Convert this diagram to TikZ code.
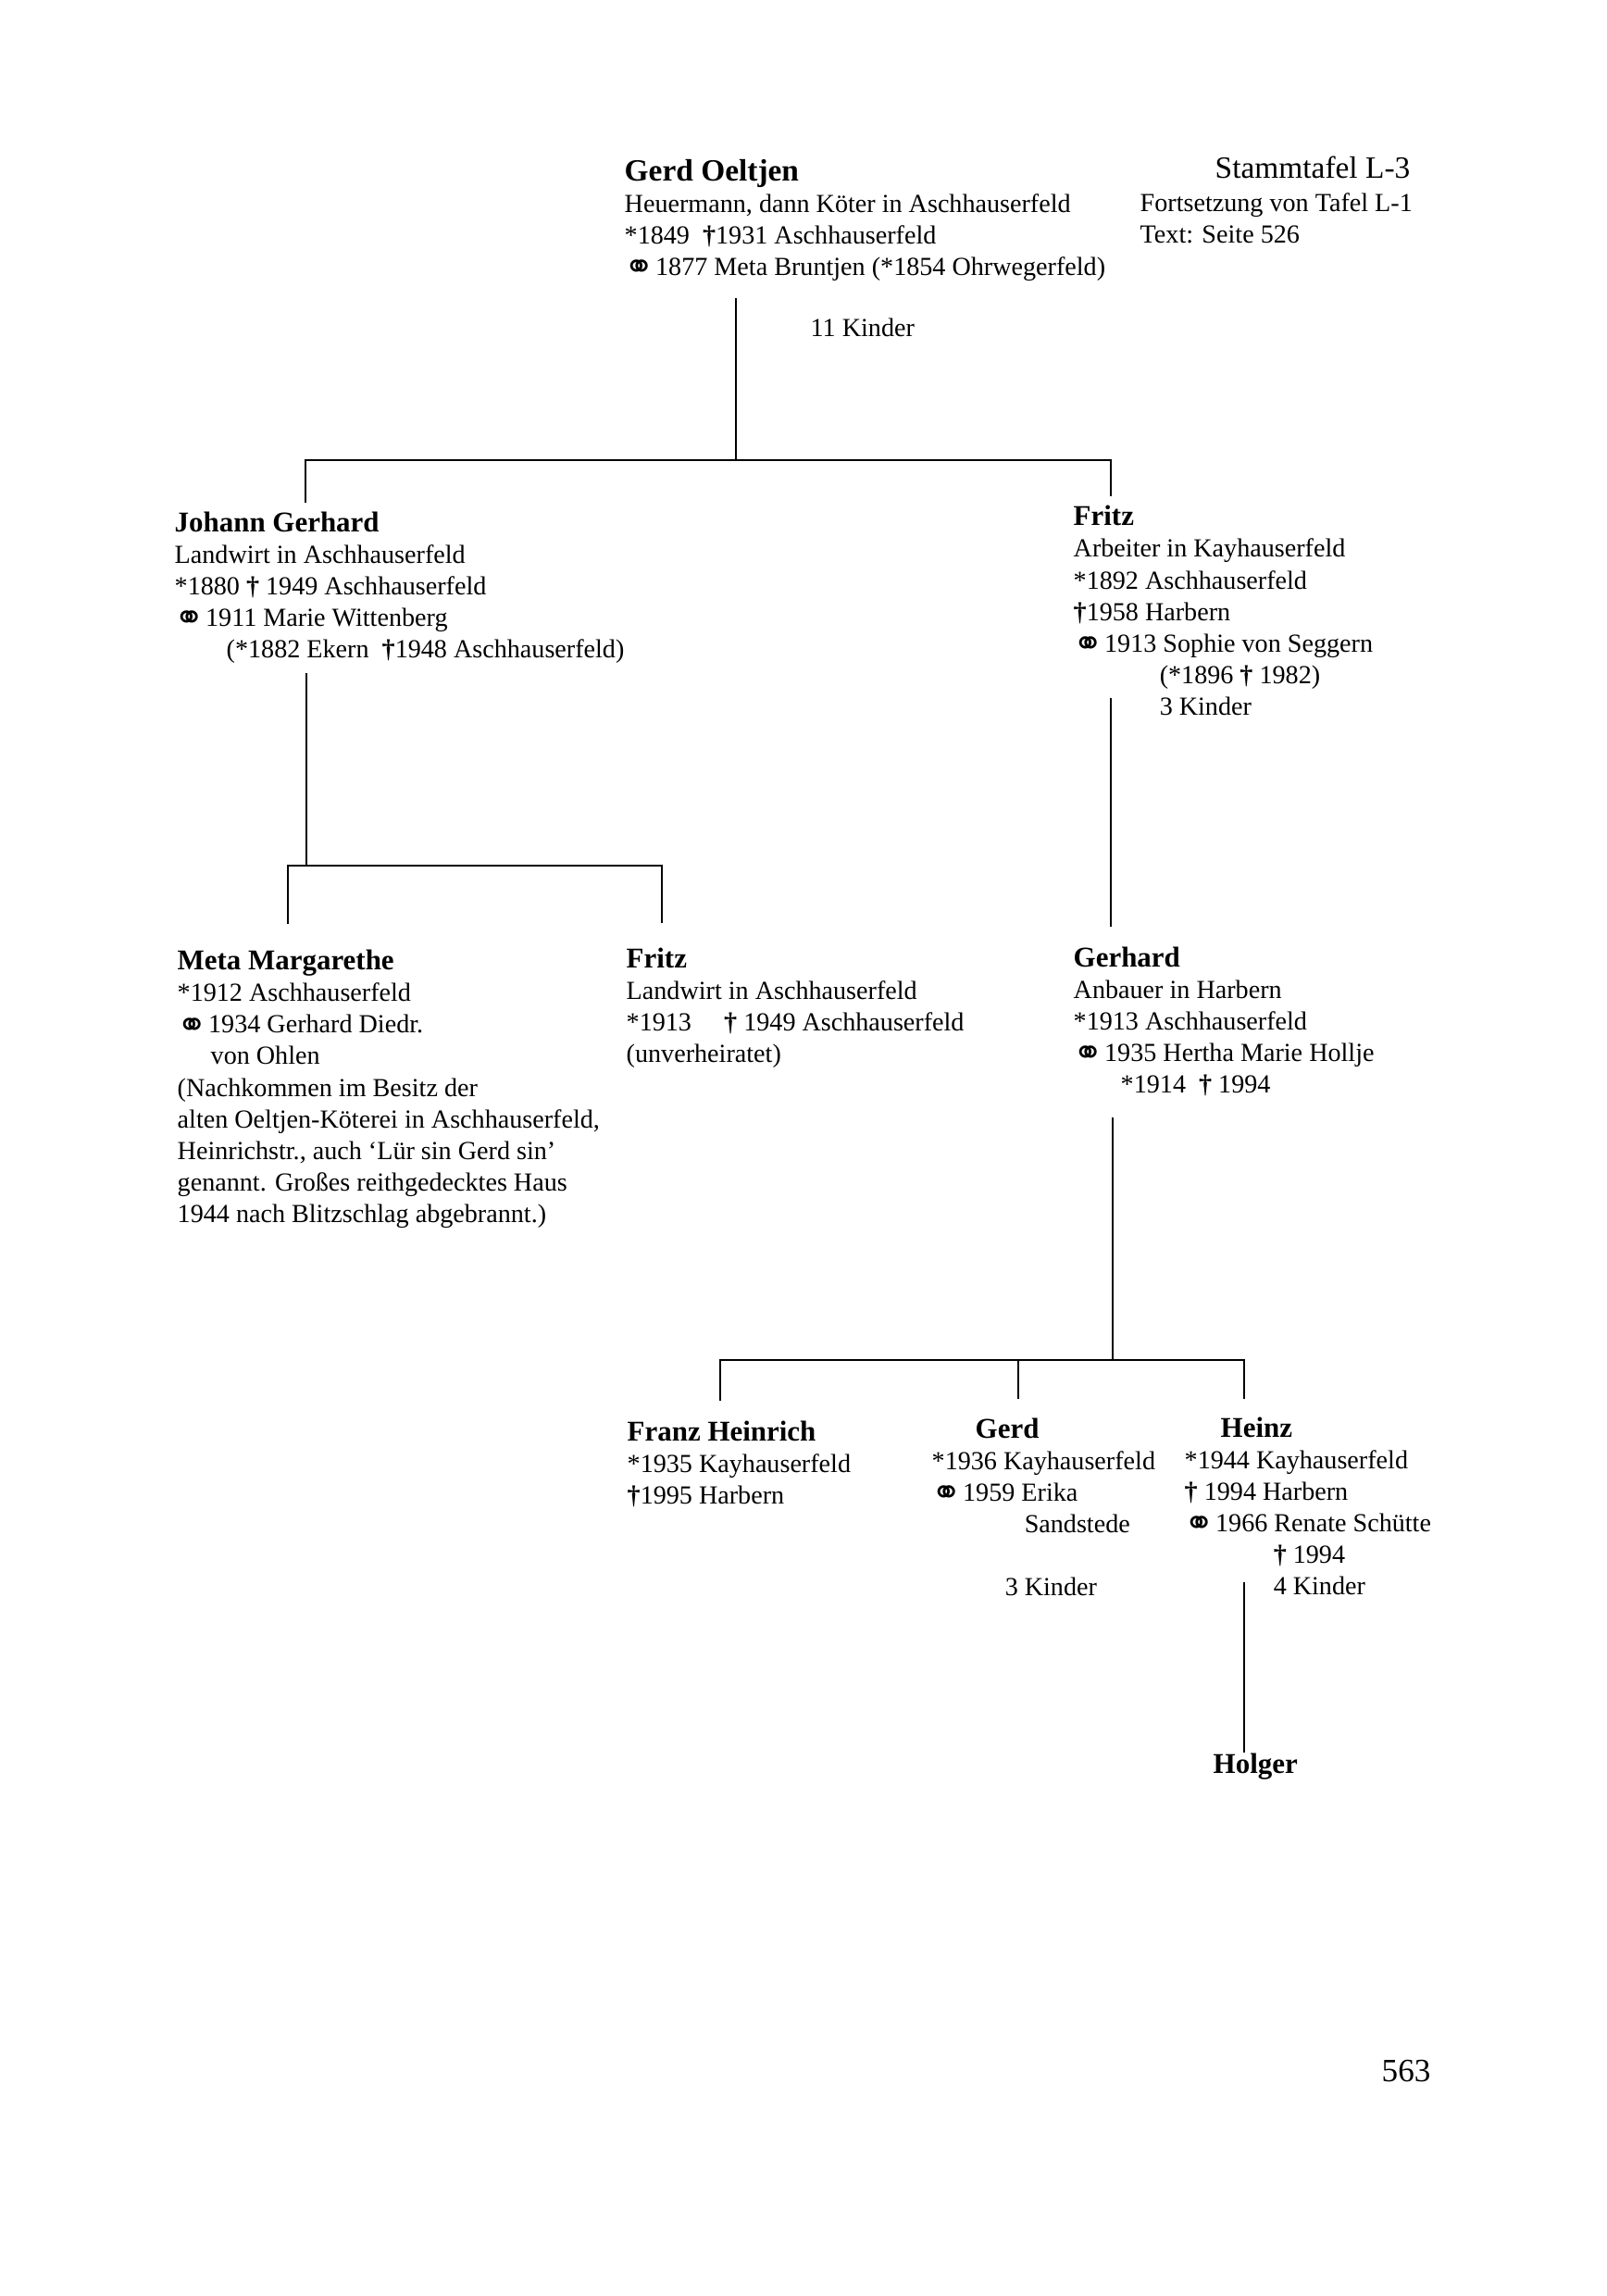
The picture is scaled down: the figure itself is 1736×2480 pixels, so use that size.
\documentclass[tikz,border=0pt]{standalone}
\usepackage{fontspec}
\setmainfont{Liberation Serif}
\newfontfamily\dvsans{DejaVu Sans}
\newcommand\mrg{\raisebox{-1.4pt}{\dvsans\fontsize{11pt}{9.67pt}\selectfont\char"26AD}\kern0.3pt}
\newcommand\dgr{\textbf{†}}
\newcommand\nm[1]{{\fontsize{8.8pt}{9.67pt}\selectfont\bfseries #1}}
\tikzset{
  person/.style={anchor=base west, align=left, inner sep=0pt, font=\fontsize{8pt}{9.67pt}\selectfont},
  conn/.style={line width=0.75pt, line cap=rect},
}
\begin{document}
\begin{tikzpicture}[x=0.01cm,y=-0.01cm]
\fill[white] (0,0) rectangle (1736,2480);
\useasboundingbox (0,0) rectangle (1736,2480);

% ---- text blocks (anchor = baseline of the last line)
\node[person] (gerd) at (674,297) {{\fontsize{9.5pt}{9.67pt}\selectfont\bfseries Gerd Oeltjen}\\
Heuermann, dann Köter in Aschhauserfeld\\
*1849 \ \dgr1931 Aschhauserfeld\\
\mrg1877 Meta Bruntjen (*1854 Ohrwegerfeld)};

\node[person, anchor=base east, font=\fontsize{9.5pt}{11pt}\selectfont] (stamm) at (1524,192) {Stammtafel L-3};
\node[person] (stammtxt) at (1231,262) {Fortsetzung von Tafel L-1\\Text: Seite 526};

\node[person] (kinder11) at (875,363) {11 Kinder};

\node[person] (johann) at (188,710) {\nm{Johann Gerhard}\\
Landwirt in Aschhauserfeld\\
*1880 \dgr\ 1949 Aschhauserfeld\\
\mrg1911 Marie Wittenberg\\
\hspace*{5.6mm}(*1882 Ekern \ \dgr1948 Aschhauserfeld)};

\node[person] (fritzA) at (1159,772) {\nm{Fritz}\\
Arbeiter in Kayhauserfeld\\
*1892 Aschhauserfeld\\
\dgr1958 Harbern\\
\mrg1913 Sophie von Seggern\\
\hspace*{9.3mm}(*1896 \dgr\ 1982)\\
\hspace*{9.3mm}3 Kinder};

\node[person] (meta) at (191,1320) {\nm{Meta Margarethe}\\
*1912 Aschhauserfeld\\
\mrg1934 Gerhard Diedr.\\
\hspace*{3.6mm}von Ohlen\\
(Nachkommen im Besitz der\\
alten Oeltjen-Köterei in Aschhauserfeld,\\
Heinrichstr., auch ‘Lür sin Gerd sin’\\
genannt. Großes reithgedecktes Haus\\
1944 nach Blitzschlag abgebrannt.)};

\node[person] (fritzB) at (676,1147) {\nm{Fritz}\\
Landwirt in Aschhauserfeld\\
*1913 \quad \dgr\ 1949 Aschhauserfeld\\
(unverheiratet)};

\node[person] (gerhard) at (1159,1180) {\nm{Gerhard}\\
Anbauer in Harbern\\
*1913 Aschhauserfeld\\
\mrg1935 Hertha Marie Hollje\\
\hspace*{5.1mm}*1914 \ \dgr\ 1994};

\node[person] (franz) at (677,1624) {\nm{Franz Heinrich}\\
*1935 Kayhauserfeld\\
\dgr1995 Harbern};

\node[person] (gerdB) at (1006,1723) {\hspace*{4.7mm}\nm{Gerd}\\
*1936 Kayhauserfeld\\
\mrg1959 Erika\\
\hspace*{10mm}Sandstede\\
\mbox{}\\
\hspace*{7.9mm}3 Kinder};

\node[person] (heinz) at (1279,1722) {\hspace*{3.9mm}\nm{Heinz}\\
*1944 Kayhauserfeld\\
\dgr\ 1994 Harbern\\
\mrg1966 Renate Schütte\\
\hspace*{9.6mm}\dgr\ 1994\\
\hspace*{9.6mm}4 Kinder};

\node[person] (holger) at (1310,1915) {\nm{Holger}};

\node[person, font=\fontsize{10pt}{12pt}\selectfont] (page) at (1492,2248) {563};

% ---- connector coordinates
\coordinate (gerdS) at (795,323);
\coordinate (barTop) at (795,497);
\coordinate (barTL) at (330,497);
\coordinate (barTR) at (1200,497);
\coordinate (johannN) at (330,542);
\coordinate (fritzAN) at (1200,535);

\coordinate (johannS) at (331,728);
\coordinate (barJ) at (331,935);
\coordinate (barJL) at (311,935);
\coordinate (barJR) at (715,935);
\coordinate (metaN) at (311,997);
\coordinate (fritzBN) at (715,996);

\coordinate (fritzAS) at (1200,755);
\coordinate (gerhardN) at (1200,1000);

\coordinate (gerhardS) at (1202,1208);
\coordinate (barG) at (1202,1469);
\coordinate (barGL) at (778,1469);
\coordinate (barGR) at (1344,1469);
\coordinate (franzN) at (778,1512);
\coordinate (gerdBbar) at (1100,1469);
\coordinate (gerdBN) at (1100,1510);
\coordinate (heinzN) at (1344,1510);

\coordinate (heinzS) at (1344,1710);
\coordinate (holgerN) at (1344,1892);

% ---- connectors
\draw[conn] (gerdS) -- (barTop);
\draw[conn] (johannN) -- (barTL) -- (barTR) -- (fritzAN);
\draw[conn] (johannS) -- (barJ);
\draw[conn] (metaN) -- (barJL) -- (barJR) -- (fritzBN);
\draw[conn] (fritzAS) -- (gerhardN);
\draw[conn] (gerhardS) -- (barG);
\draw[conn] (franzN) -- (barGL) -- (barGR) -- (heinzN);
\draw[conn] (gerdBbar) -- (gerdBN);
\draw[conn] (heinzS) -- (holgerN);
\end{tikzpicture}
\end{document}
